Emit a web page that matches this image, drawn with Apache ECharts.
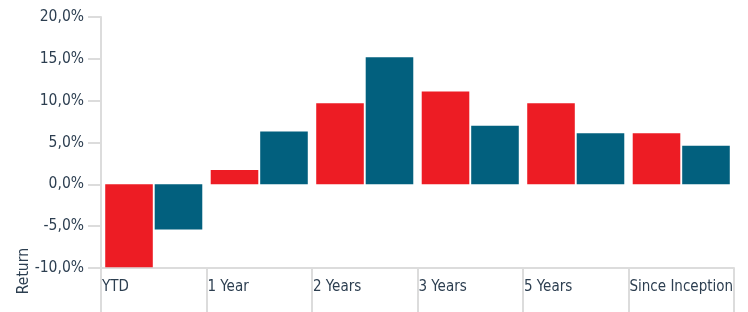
<!DOCTYPE html>
<html>
	<head>
		<meta charset="utf-8" />
		<title>Return</title>
		<style type="text/css">
			body,
			html,
			#chart {
				width: 100%;
				height: 100%;
				overflow: hidden;
				margin: 0;
				background: #fff;
			}
		</style>
	</head>
	<body>
		<div id="chart"></div>
		<script src="https://cdn.jsdelivr.net/npm/echarts@6/dist/echarts.min.js"></script>
		<script>
			// data
			var categories = ['YTD', '1 Year', '2 Years', '3 Years', '5 Years', 'Since Inception'];
			var fundValues = [-9.9, 1.7, 9.7, 11.1, 9.7, 6.1];
			var benchValues = [-5.4, 6.3, 15.2, 7.0, 6.1, 4.6];
			var yTicks = [-10, -5, 0, 5, 10, 15, 20];

			var font = '"Liberation Sans Narrow", "DejaVu Sans Condensed", "Roboto", sans-serif';
			var textColor = '#2c3e50';
			var lineColor = '#dcdcdc';

			var chart = echarts.init(document.getElementById('chart'));
			var option = {
				animation: false,
				grid: { left: 101, right: 14, top: 17, bottom: 44 },
				xAxis: [
					{
						// bars
						type: 'category',
						data: categories,
						axisLine: { show: false },
						axisTick: { show: false },
						axisLabel: { show: false }
					},
					{
						// tick lines + left aligned labels
						type: 'category',
						position: 'bottom',
						boundaryGap: false,
						data: categories.concat(['']),
						axisLine: { show: true, lineStyle: { color: lineColor, width: 2 } },
						axisTick: { show: true, interval: 0, length: 46, lineStyle: { color: lineColor, width: 2 } },
						axisLabel: {
							interval: 0,
							hideOverlap: false,
							align: 'left',
							margin: 12,
							padding: [0, 0, 0, 1],
							color: textColor,
							fontFamily: font,
							fontSize: 15
						}
					}
				],
				yAxis: {
					type: 'value',
					min: yTicks[0],
					max: yTicks[yTicks.length - 1],
					interval: 5,
					splitLine: { show: false },
					axisLine: { show: true, lineStyle: { color: lineColor, width: 2 } },
					axisTick: { show: true, length: 13, lineStyle: { color: lineColor, width: 2 } },
					axisLabel: {
						margin: 17,
						color: textColor,
						fontFamily: font,
						fontSize: 15.5,
						formatter: function (v) {
							return v.toFixed(1).replace('.', ',') + '%';
						}
					}
				},
				graphic: [
					{
						type: 'text',
						left: 16,
						top: 248,
						rotation: Math.PI / 2,
						style: {
							text: 'Return',
							fill: textColor,
							font: '15.5px ' + font
						}
					}
				],
				series: [
					{
						type: 'bar',
						xAxisIndex: 0,
						data: fundValues,
						itemStyle: { color: '#ed1c24' },
						barGap: '4%',
						barCategoryGap: '8%'
					},
					{
						type: 'bar',
						xAxisIndex: 0,
						data: benchValues,
						itemStyle: { color: '#02607e' }
					}
				]
			};
			chart.setOption(option);
		</script>
	</body>
</html>
